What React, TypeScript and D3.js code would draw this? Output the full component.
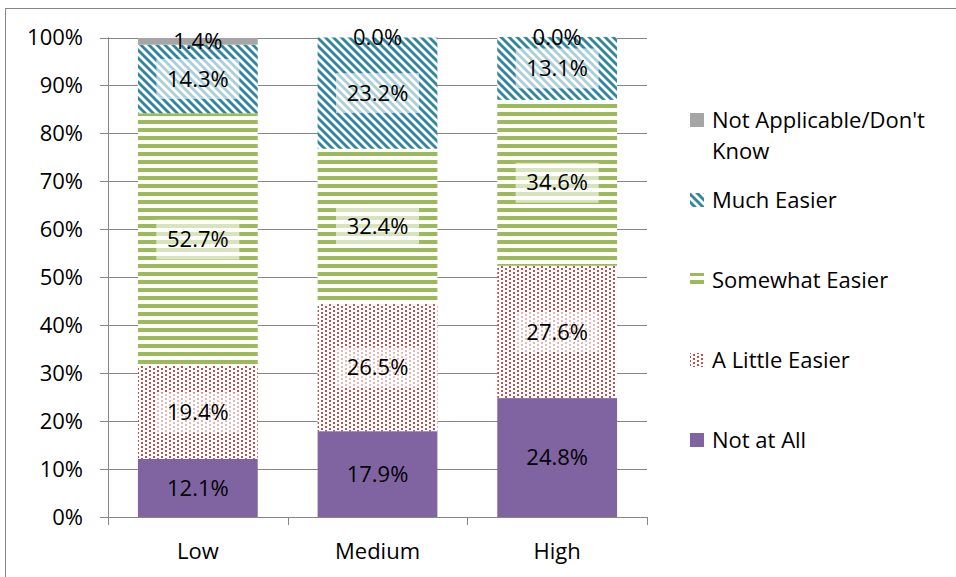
import React from "react";
import * as d3 from "d3";

// Response categories and share (%) for each group
const groups = ["Low", "Medium", "High"];
const seriesNames = [
  "Not at All",
  "A Little Easier",
  "Somewhat Easier",
  "Much Easier",
  "Not Applicable/Don't Know",
];
const notAtAll = [12.1, 17.9, 24.8];
const aLittleEasier = [19.4, 26.5, 27.6];
const somewhatEasier = [52.7, 32.4, 34.6];
const muchEasier = [14.3, 23.2, 13.1];
const notApplicable = [1.4, 0.0, 0.0];
const yTicks = [0, 10, 20, 30, 40, 50, 60, 70, 80, 90, 100];

const W = 956;
const H = 577;
const plot = { left: 108, right: 647, top: 37.5, bottom: 517 };
const FONT = "'Open Sans', sans-serif";
const FS = 22;
const GRID = "#868686";

const fills = [
  "#8064A2",
  "url(#pat-dots)",
  "url(#pat-hlines)",
  "url(#pat-diag)",
  "#A5A5A5",
];
// series drawn with a hatch/dot pattern get a light backdrop behind their labels
const patterned = [false, true, true, true, false];

export default function App() {
  const seriesValues = [notAtAll, aLittleEasier, somewhatEasier, muchEasier, notApplicable];
  const rows = groups.map((g, i) => {
    const r: Record<string, number | string> = { group: g };
    seriesNames.forEach((s, k) => (r[s] = seriesValues[k][i]));
    return r;
  });
  const stacked = d3.stack<any>().keys(seriesNames)(rows);

  const x = d3
    .scaleBand()
    .domain(groups)
    .range([plot.left, plot.right])
    .paddingInner(1 / 3)
    .paddingOuter(1 / 6);
  const y = d3.scaleLinear().domain([0, 100]).range([plot.bottom, plot.top]);

  const step = x.step();
  const boundaries = [0, 1, 2, 3].map((i) => plot.left + i * step);

  const legendTop = 120;
  const legendGap = 80;
  const legendItems = [...seriesNames].map((s, k) => ({ name: s, fill: fills[k] })).reverse();

  return (
    <svg
      width={W}
      height={H}
      style={{ position: "absolute", left: 0, top: 0, background: "#fff" }}
      fontFamily={FONT}
    >
      <defs>
        <pattern id="pat-diag" width={8} height={8} patternUnits="userSpaceOnUse">
          <rect width={8} height={8} fill="#fff" />
          <polygon points="0,0 2,0 8,6 8,8 6,8 0,2" fill="#31859C" />
          <polygon points="6,0 8,0 8,2" fill="#31859C" />
          <polygon points="0,6 2,8 0,8" fill="#31859C" />
        </pattern>
        <pattern id="pat-hlines" width={8} height={8} patternUnits="userSpaceOnUse">
          <rect width={8} height={8} fill="#fff" />
          <rect y={0} width={8} height={4} fill="#9BBB59" />
        </pattern>
        <pattern id="pat-dots" width={8} height={4} patternUnits="userSpaceOnUse">
          <rect width={8} height={4} fill="#fff" />
          <rect x={1} y={0} width={2} height={2} fill="#C0504D" />
          <rect x={5} y={2} width={2} height={2} fill="#C0504D" />
        </pattern>
      </defs>

      {/* chart frame */}
      <rect x={5.5} y={8.5} width={W + 20} height={H + 20} fill="none" stroke={GRID} strokeWidth={1} />

      {/* gridlines and y ticks */}
      {yTicks.map((t) => (
        <g key={t}>
          <line
            x1={plot.left - 8}
            x2={plot.right}
            y1={Math.round(y(t)) + 0.5}
            y2={Math.round(y(t)) + 0.5}
            stroke={GRID}
            strokeWidth={1}
          />
          <text x={83} y={y(t)} dy="0.35em" textAnchor="end" fontSize={FS} fill="#000">
            {t}%
          </text>
        </g>
      ))}

      {/* bars */}
      {stacked.map((layer, k) => (
        <g key={layer.key} fill={fills[k]}>
          {layer.map((d, i) => (
            <rect
              key={i}
              x={x(groups[i])}
              y={y(d[1])}
              width={x.bandwidth()}
              height={Math.max(0, y(d[0]) - y(d[1]))}
            />
          ))}
        </g>
      ))}

      {/* axes */}
      <line x1={plot.left + 0.5} x2={plot.left + 0.5} y1={plot.top} y2={plot.bottom} stroke={GRID} />
      <line x1={plot.left} x2={plot.right} y1={Math.round(plot.bottom) + 0.5} y2={Math.round(plot.bottom) + 0.5} stroke={GRID} />
      {boundaries.map((bx, i) => (
        <line
          key={i}
          x1={Math.round(bx) + 0.5}
          x2={Math.round(bx) + 0.5}
          y1={plot.bottom}
          y2={plot.bottom + 8}
          stroke={GRID}
        />
      ))}
      {groups.map((g) => (
        <text
          key={g}
          x={(x(g) as number) + x.bandwidth() / 2}
          y={551}
          dy="0.35em"
          textAnchor="middle"
          fontSize={FS}
          fill="#000"
        >
          {g}
        </text>
      ))}

      {/* value labels */}
      {stacked.map((layer, k) =>
        layer.map((d, i) => {
          const v = seriesValues[k][i];
          const label = `${v.toFixed(1)}%`;
          const cx = (x(groups[i]) as number) + x.bandwidth() / 2;
          const cy = y((d[0] + d[1]) / 2);
          const bw = 83;
          return (
            <g key={`${k}-${i}`}>
              {patterned[k] && (
                <rect x={cx - bw / 2} y={cy - 20} width={bw} height={40} fill="#fff" opacity={0.6} />
              )}
              <text x={cx} y={cy} dy="0.35em" textAnchor="middle" fontSize={FS} fill="#000">
                {label}
              </text>
            </g>
          );
        })
      )}

      {/* legend */}
      {legendItems.map((it, j) => {
        const cy = legendTop + j * legendGap;
        const lines = it.name === "Not Applicable/Don't Know" ? ["Not Applicable/Don't", "Know"] : [it.name];
        return (
          <g key={it.name}>
            <rect x={690} y={cy - 7} width={14} height={14} fill={it.fill} />
            {lines.map((ln, li) => (
              <text key={li} x={712} y={cy + li * 31} dy="0.35em" fontSize={FS} fill="#000">
                {ln}
              </text>
            ))}
          </g>
        );
      })}
    </svg>
  );
}
